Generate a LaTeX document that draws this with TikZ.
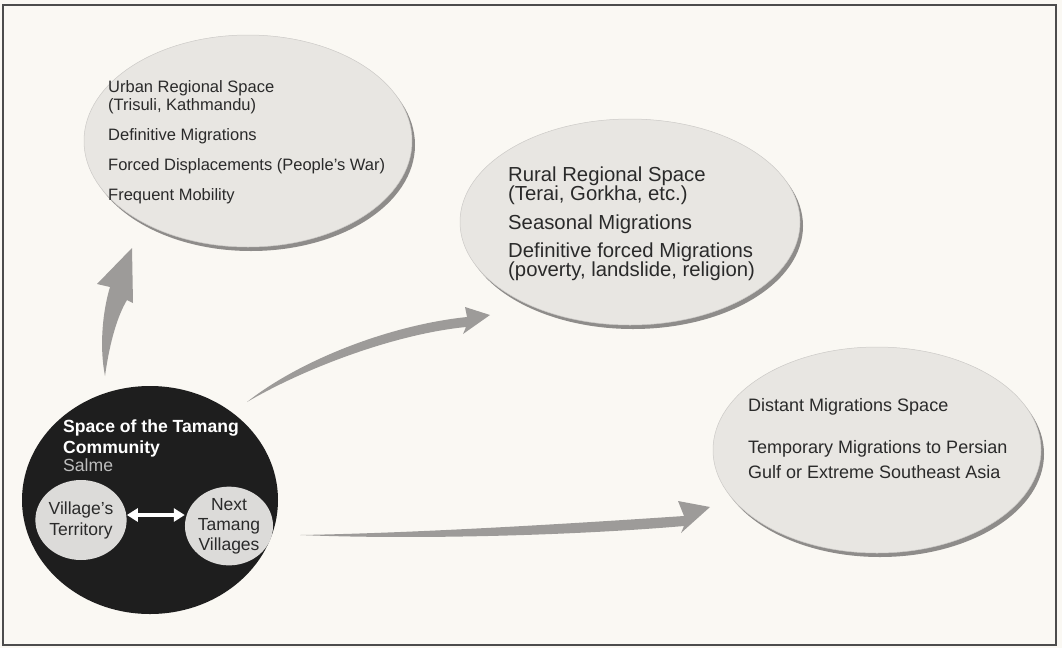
\documentclass[tikz,border=0pt]{standalone}
\usepackage{fontspec}
\setmainfont{Liberation Sans}
\usetikzlibrary{shapes.geometric,arrows.meta,shadows}
\definecolor{paper}{HTML}{FAF8F3}
\definecolor{ellfill}{HTML}{E8E6E2}
\definecolor{ellshadow}{HTML}{8E8C8A}
\definecolor{arrowgray}{HTML}{9D9B99}
\definecolor{txt}{HTML}{2A2A2A}
\definecolor{blackfill}{HTML}{1E1E1E}
\definecolor{smallfill}{HTML}{DCDBD9}
\definecolor{salmegray}{HTML}{BDBDBD}
\begin{document}
\begin{tikzpicture}[x=1pt,y=-1pt,
  spacebox/.style={ellipse, fill=ellfill, draw=ellfill!88!black, line width=0.5pt, inner sep=0pt,
    general shadow={shadow xshift=3pt, shadow yshift=-4pt, fill=ellshadow}},
  spacetext/.style={anchor=north west, align=left, inner sep=0pt, text=txt},
  smallcirc/.style={ellipse, fill=smallfill, inner sep=0pt, text=txt, align=center},
  flowarrow/.style={fill=arrowgray}
]
\useasboundingbox (0,0) rectangle (1062,648);
\fill[paper] (0,0) rectangle (1062,648);
\draw[black!70, line width=1.6pt] (3,5) rectangle (1056,645);

% ellipses
\node[spacebox, minimum width=328pt, minimum height=212pt] (urban) at (248,141) {};
\node[spacebox, minimum width=340pt, minimum height=206pt] (rural) at (630,222) {};
\node[spacebox, minimum width=328pt, minimum height=206pt] (distant) at (877,450) {};

\node[spacetext, font=\fontsize{16.5}{18}\selectfont] (urbantext) at (108,80)
  {Urban Regional Space\\(Trisuli, Kathmandu)\\[12pt]Definitive Migrations\\[12pt]Forced Displacements (People's War)\\[12pt]Frequent Mobility};
\node[spacetext, font=\fontsize{20.3}{19}\selectfont] (ruraltext) at (508,167)
  {Rural Regional Space\\(Terai, Gorkha, etc.)\\[9.5pt]Seasonal Migrations\\[9.5pt]Definitive forced Migrations\\(poverty, landslide, religion)};
\node[spacetext, font=\fontsize{18}{25}\selectfont] (distanttext) at (748,398)
  {Distant Migrations Space\\[17pt]Temporary Migrations to Persian\\Gulf or Extreme Southeast Asia};

% community
\node[ellipse, fill=blackfill, inner sep=0pt, minimum width=256pt, minimum height=228pt] (community) at (150,500) {};
\node[anchor=north west, align=left, inner sep=0pt, text=white, font=\fontsize{17.6}{21}\selectfont\bfseries] (commtext) at (63,420)
  {Space of the Tamang\\Community\\[-3pt]{\mdseries\color{salmegray}Salme}};
\node[smallcirc, minimum width=84pt, minimum height=80pt, font=\fontsize{17.5}{21}\selectfont] (vt) at (81,520) {Village's\\Territory};
\node[smallcirc, minimum width=83pt, minimum height=74pt, font=\fontsize{17.5}{20}\selectfont] (nt) at (229,526) {Next\\Tamang\\Villages};
\draw[white, line width=3.6pt, {Triangle[width=13pt,length=11pt]}-{Triangle[width=13pt,length=11pt]}]
  ([yshift=5pt]vt.east) -- ([yshift=11pt]nt.west);

% flow arrows
\coordinate (tailA) at (105,376);
\coordinate (tipA) at (132,248);
\fill[flowarrow] (tailA) .. controls (110,340) and (118,315) .. (127,300) -- (133,303) -- (tipA)
  -- (97,284) -- (110,287) .. controls (103,310) and (99,345) .. (tailA) -- cycle;

\coordinate (tailB) at (247,402);
\coordinate (tipB) at (490,315);
\fill[flowarrow] (tailB) .. controls (300,360) and (390,325) .. (467,317) -- (465,307) -- (tipB)
  -- (463,334) -- (466,327) .. controls (395,334) and (305,368) .. (tailB) -- cycle;

\coordinate (tailC) at (300,535);
\coordinate (tipC) at (710,507);
\fill[flowarrow] (tailC) .. controls (420,533) and (580,523) .. (684,516) -- (678,501) -- (tipC)
  -- (681,533) -- (684,526) .. controls (580,535) and (420,540) .. (tailC) -- cycle;
\end{tikzpicture}
\end{document}
